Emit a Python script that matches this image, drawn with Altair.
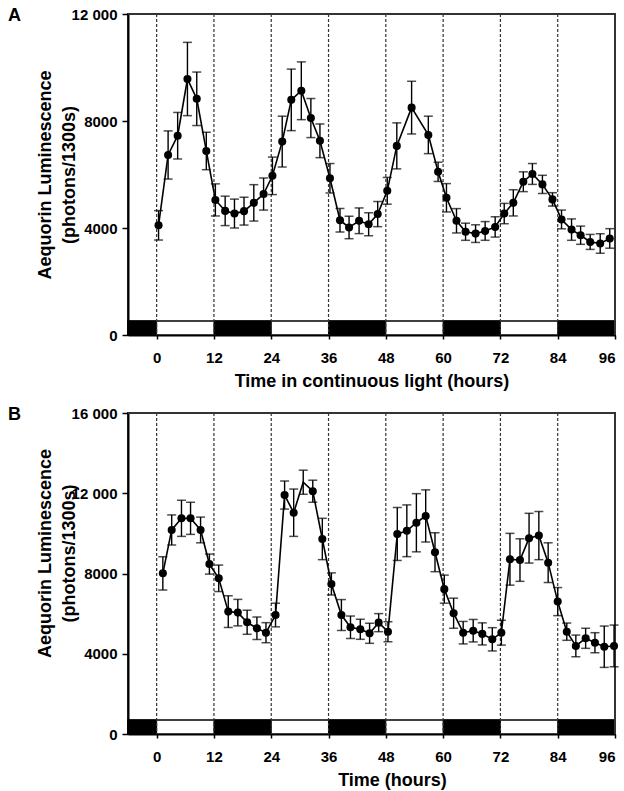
import altair as alt
import pandas as pd

# ---------------- data ----------------
a_time = [0.4, 2.4, 4.4, 6.45, 8.4, 10.4, 12.3, 14.35, 16.3, 18.3, 20.35, 22.4,
          24.25, 26.3, 28.2, 30.3, 32.3, 34.2, 36.3, 38.4, 40.3, 42.4, 44.4, 46.3,
          48.3, 50.3, 53.4, 56.9, 58.95, 60.7, 62.8, 64.7, 66.8, 68.8, 70.9, 72.8,
          74.7, 76.8, 78.7, 80.8, 82.9, 84.8, 86.9, 88.8, 90.8, 92.9, 94.9]
a_value = [4100, 6730, 7450, 9570, 8830, 6880, 5050, 4640, 4540, 4630, 4940, 5270,
           5950, 7230, 8790, 9130, 8110, 7260, 5860, 4290, 4020, 4270, 4140, 4520,
           5390, 7070, 8500, 7480, 6100, 5130, 4270, 3860, 3790, 3890, 4040, 4540,
           4940, 5730, 6020, 5630, 5070, 4320, 3940, 3730, 3480, 3420, 3610]
a_err = [550, 900, 870, 1370, 1000, 700, 600, 550, 540, 520, 680, 600,
         700, 950, 1150, 1080, 730, 630, 550, 440, 420, 480, 430, 470,
         500, 860, 985, 700, 360, 530, 455, 320, 330, 350, 380, 380,
         490, 370, 390, 340, 250, 350, 400, 340, 280, 365, 365]

b_time = [1.3, 3.15, 5.2, 7.1, 9.2, 11.05, 13.0, 15.0, 17.0, 18.95, 21.0, 22.9,
          24.9, 26.8, 28.7, 30.7, 32.7, 34.7, 36.6, 38.7, 40.6, 42.65, 44.6, 46.5,
          48.45, 50.4, 52.4, 54.4, 56.35, 58.3, 60.25, 62.2, 64.2, 66.3, 68.2, 70.3,
          72.2, 74.0, 76.1, 78.0, 80.05, 82.0, 84.0, 85.9, 87.8, 89.85, 91.8, 93.75,
          95.8]
b_value = [8010, 10170, 10750, 10750, 10170, 8470, 7760, 6100, 6050, 5570, 5270, 5050,
           5930, 11910, 11030, 12550, 12100, 9720, 7480, 5930, 5320, 5220, 5020, 5550,
           5100, 9970, 10130, 10530, 10870, 9060, 7220, 6020, 5050, 5150, 4990, 4720,
           5050, 8710, 8670, 9760, 9890, 8540, 6600, 5100, 4390, 4770, 4550, 4350,
           4390]
b_err = [830, 750, 900, 800, 640, 500, 660, 790, 660, 600, 560, 500,
         590, 700, 1180, 600, 550, 1030, 550, 770, 560, 500, 500, 450,
         500, 1320, 1290, 1450, 1300, 970, 700, 750, 560, 560, 550, 580,
         620, 1290, 1060, 1240, 1200, 990, 700, 430, 540, 500, 500, 1030,
         1040]
b_dot = [1] * 15 + [0] + [1] * 33

dark_start = [-6, 12, 36, 60, 84]
dark_end = [0, 24, 48, 72, 96]
boundaries = [0, 12, 24, 36, 48, 60, 72, 84]
x_ticks = [0, 12, 24, 36, 48, 60, 72, 84, 96]
a_yticks = [0, 4000, 8000, 12000]
b_yticks = [0, 4000, 8000, 12000, 16000]
y_title = ["Aequorin Luminescence", "(photons/1300s)"]

FONT = "Liberation Sans"
W, H = 487, 321
STRIP = 14


def panel(times, values, errs, dots, ymax, yticks, xtitle, letter, xtitle_x, ytitle_y):
    df = pd.DataFrame({"t": times, "v": values, "e": errs, "dot": dots})
    df["lo"] = df["v"] - df["e"]
    df["hi"] = df["v"] + df["e"]

    xs = alt.Scale(domain=[-6, 96], nice=False, zero=False)
    ys = alt.Scale(domain=[0, ymax], nice=False)
    xaxis = alt.Axis(values=x_ticks, title=xtitle, grid=False,
                     domainColor="black", domainWidth=2, tickColor="black",
                     tickWidth=1.5, tickSize=4, labelPadding=11,
                     labelFont=FONT, labelFontSize=15, labelFontWeight="bold",
                     labelColor="black", labelAngle=0,
                     titleFont=FONT, titleFontSize=18, titleFontWeight="bold",
                     titleColor="black", titleX=xtitle_x, titleY=37,
                     titleAlign="center", titleBaseline="top")
    yaxis = alt.Axis(values=yticks, title=y_title, grid=False,
                     domainColor="black", domainWidth=2, tickColor="black",
                     tickWidth=1.5, tickSize=6, labelPadding=5,
                     labelFont=FONT, labelFontSize=15, labelFontWeight="bold",
                     labelColor="black",
                     labelExpr="datum.value >= 10000 ? format(datum.value/1000, 'd') + ' 000' : format(datum.value, 'd')",
                     titleFont=FONT, titleFontSize=18, titleFontWeight="bold",
                     titleColor="black", titleX=-92, titleY=ytitle_y,
                     titleAngle=270, titleAlign="center", titleBaseline="top",
                     titleLineHeight=24)

    X = lambda f: alt.X(f, type="quantitative", scale=xs, axis=xaxis)
    Y = lambda f: alt.Y(f, type="quantitative", scale=ys, axis=yaxis)

    strip_df = pd.DataFrame({"t": [dark_start[0]], "t2": [dark_end[-1]]})
    strip = alt.Chart(strip_df).mark_rect(fill="white", stroke="black",
                                          strokeWidth=1.5).encode(
        x=X("t"), x2="t2", y=alt.value(H), y2=alt.value(H - STRIP))

    dark_df = pd.DataFrame({"t": dark_start, "t2": dark_end})
    dark = alt.Chart(dark_df).mark_rect(fill="black", stroke="black",
                                        strokeWidth=1).encode(
        x=X("t"), x2="t2", y=alt.value(H), y2=alt.value(H - STRIP))

    bound_df = pd.DataFrame({"t": boundaries})
    dashes = alt.Chart(bound_df).mark_rule(color="#333", strokeWidth=1.2,
                                           strokeDash=[3, 2]).encode(
        x=X("t"), y=alt.value(0), y2=alt.value(H))

    frame_df = pd.DataFrame({"t": [dark_start[0]], "t2": [dark_end[-1]],
                             "lo": [0], "hi": [ymax]})
    frame_top = alt.Chart(frame_df).mark_rule(color="#333", strokeWidth=2).encode(
        x=X("t"), x2="t2", y=Y("hi"))
    frame_right = alt.Chart(frame_df).mark_rule(color="#333", strokeWidth=2).encode(
        x=X("t2"), y=Y("lo"), y2="hi")

    base = alt.Chart(df)
    bars = base.mark_rule(color="black", strokeWidth=1.4).encode(
        x=X("t"), y=Y("lo"), y2="hi")
    cap_lo = base.mark_tick(color="black", orient="horizontal", size=9,
                            thickness=1.5).encode(x=X("t"), y=Y("lo"))
    cap_hi = base.mark_tick(color="black", orient="horizontal", size=9,
                            thickness=1.5).encode(x=X("t"), y=Y("hi"))
    line = base.mark_line(color="black", strokeWidth=1.6).encode(
        x=X("t"), y=Y("v"))
    dots_layer = base.transform_filter("datum.dot == 1").mark_circle(
        color="black", size=65, opacity=1).encode(x=X("t"), y=Y("v"))

    lab = alt.Chart(pd.DataFrame({"label": [letter]})).mark_text(
        align="left", baseline="middle", font=FONT, fontSize=18,
        fontWeight="bold", color="black").encode(
        x=alt.value(-120), y=alt.value(2), text="label:N")

    return alt.layer(strip, dark, dashes, frame_top, frame_right, bars,
                     cap_lo, cap_hi, line, dots_layer, lab).properties(width=W, height=H)


chart_a = panel(a_time, a_value, a_err, [1] * len(a_time), 12000, a_yticks,
                "Time in continuous light (hours)", "A", W / 2, H / 2)
chart_b = panel(b_time, b_value, b_err, b_dot, 16000, b_yticks,
                "Time (hours)", "B", 264, 140)

chart = alt.vconcat(chart_a, chart_b, spacing=14).properties(
    padding={"left": 7, "top": 6, "right": 0, "bottom": 0}
).configure(background="white").configure_view(stroke="#333", strokeWidth=2)

chart.save("out.html", embed_options={"renderer": "svg", "actions": False})
